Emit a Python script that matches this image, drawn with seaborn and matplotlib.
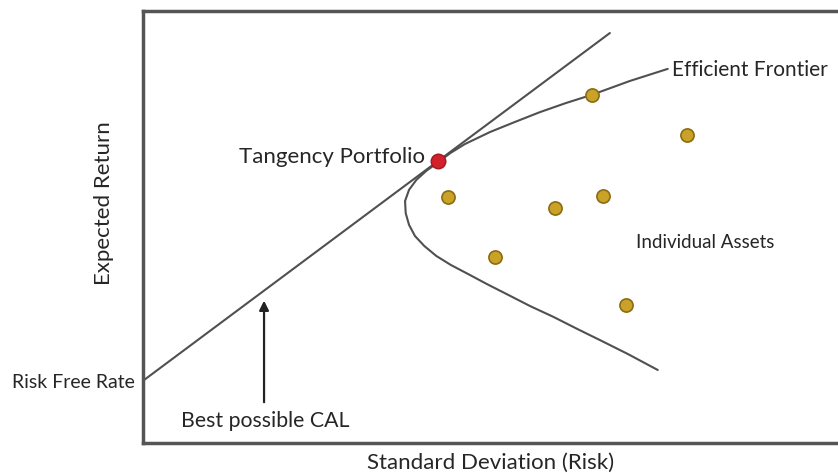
import pandas as pd
import seaborn as sns
import matplotlib.pyplot as plt

# ---------------------------------------------------------
# data (arbitrary units)
# ---------------------------------------------------------

frontier_sd = [7.89, 7.32, 6.75, 6.36, 5.97, 5.59, 5.22, 4.84, 4.62, 4.44, 4.26, 4.11,
               4.00, 3.94, 3.95, 4.00, 4.09, 4.23, 4.41, 4.63, 4.89, 5.17, 5.49, 5.82,
               6.17, 6.53, 6.90, 7.29, 7.74]
frontier_ret = [8.66, 8.38, 8.06, 7.87, 7.66, 7.43, 7.20, 6.92, 6.71, 6.50, 6.30, 6.09,
                5.86, 5.60, 5.32, 5.05, 4.79, 4.56, 4.33, 4.12, 3.91, 3.68, 3.43, 3.17,
                2.92, 2.64, 2.36, 2.06, 1.69]

cal_sd = [0.0, 7.02]
cal_ret = [1.44, 9.49]

asset_sd = [6.75, 8.18, 4.59, 6.20, 6.92, 5.30, 7.26]
asset_ret = [8.06, 7.13, 5.70, 5.44, 5.72, 4.31, 3.19]

tangency_sd = [4.44]
tangency_ret = [6.53]

risk_free = 1.44
arrow_sd = 1.82
arrow_from = 0.88
arrow_to = 3.36

# ---------------------------------------------------------
# plot
# ---------------------------------------------------------

sns.set_style("white")
plt.rcParams["font.family"] = ["Lato", "DejaVu Sans"]

fig = plt.figure(figsize=(8.38, 4.73), dpi=100)
ax = fig.add_axes([143 / 838, 30 / 473, 1 - 143 / 838, 432 / 473])

line_col = "#505050"
sns.lineplot(x=cal_sd, y=cal_ret, ax=ax, color=line_col, lw=1.5, sort=False, estimator=None)
sns.lineplot(x=frontier_sd, y=frontier_ret, ax=ax, color=line_col, lw=1.5,
             sort=False, estimator=None)
sns.scatterplot(x=asset_sd, y=asset_ret, ax=ax, s=90, color="#c9a227",
                edgecolor="#8a6d12", linewidth=1.2, zorder=5)
sns.scatterplot(x=tangency_sd, y=tangency_ret, ax=ax, s=110, color="#d3212c",
                edgecolor="#a01822", linewidth=1.0, zorder=6)

ax.annotate("", xy=(arrow_sd, arrow_to), xytext=(arrow_sd, arrow_from),
            arrowprops=dict(arrowstyle="-|>", color="#222222", lw=1.6,
                            mutation_scale=14))

ax.text(4.24, 6.62, "Tangency Portfolio", fontsize=16, ha="right", va="center")
ax.text(7.95, 8.63, "Efficient Frontier", fontsize=15, ha="left", va="center")
ax.text(7.41, 4.65, "Individual Assets", fontsize=13.5, ha="left", va="center")
ax.text(0.57, 0.51, "Best possible CAL", fontsize=15.3, ha="left", va="center")
ax.text(-0.12, risk_free - 0.05, "Risk Free Rate", fontsize=14, ha="right",
        va="center", clip_on=False)

ax.set_xlim(0, 10.45)
ax.set_ylim(0, 10)
ax.set_xticks([])
ax.set_yticks([])
ax.set_xlabel("Standard Deviation (Risk)", fontsize=16, labelpad=7)
ax.set_ylabel("Expected Return", fontsize=16)
ax.yaxis.set_label_coords(-0.042, 0.556)

for side in ["left", "top", "bottom"]:
    ax.spines[side].set_color("#555555")
    ax.spines[side].set_linewidth(2.5)
ax.spines["right"].set_visible(False)

fig.savefig("out.png", dpi=100)
